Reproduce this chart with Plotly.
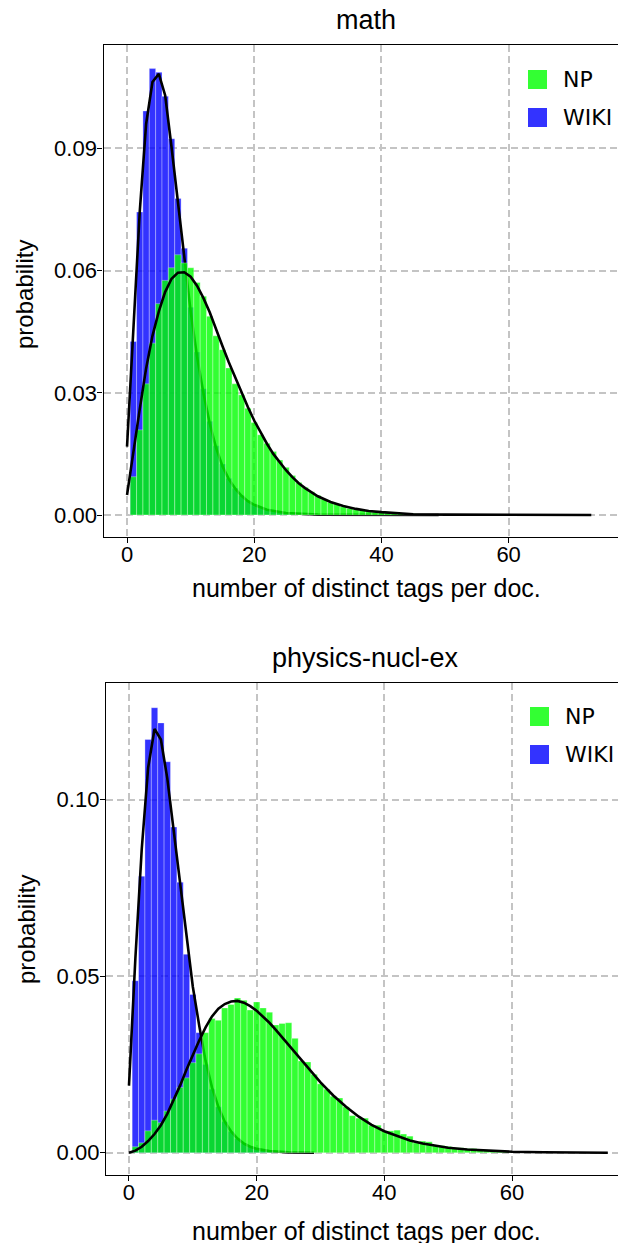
import plotly.graph_objects as go

W, H = 618, 1243

# ---------------- data ----------------
# math panel: histogram bins centred on integers (width 1)
math_wiki_k = list(range(1, 31))
math_wiki_p = [0.0426, 0.0744, 0.0992, 0.1096, 0.1087, 0.1028, 0.0924, 0.0777, 0.0655, 0.0510,
               0.0400, 0.0310, 0.0230, 0.0170, 0.0125, 0.0090, 0.0066, 0.0048, 0.0035, 0.0025,
               0.0018, 0.0013, 0.0009, 0.0006, 0.0004, 0.0003, 0.0002, 0.0002, 0.0001, 0.0001]
math_np_k = list(range(1, 50))
math_np_p = [0.0094, 0.0209, 0.0322, 0.0422, 0.0519, 0.0576, 0.0607, 0.0639, 0.0619, 0.0607,
             0.0571, 0.0537, 0.0488, 0.0440, 0.0406, 0.0361, 0.0322, 0.0295, 0.0262, 0.0227,
             0.0197, 0.0176, 0.0156, 0.0135, 0.0117, 0.0097, 0.0080, 0.0068, 0.0057, 0.0048,
             0.0039, 0.0031, 0.0027, 0.0020, 0.0016, 0.0013, 0.0011, 0.0009, 0.0007, 0.0006,
             0.0005, 0.0004, 0.0004, 0.0003, 0.0003, 0.0002, 0.0002, 0.0002, 0.0001]
math_wiki_fit_x = list(range(0, 21)) + [22, 25, 30, 40, 49]
math_wiki_fit_y = [0.0168, 0.0455, 0.0745, 0.0960, 0.1063, 0.1083, 0.1030, 0.0903, 0.0773, 0.0630,
                   0.0500, 0.0390, 0.0300, 0.0225, 0.0165, 0.0120, 0.0088, 0.0065, 0.0047, 0.0034,
                   0.0025, 0.0013, 0.0005, 0.0001, 0.0, 0.0]
math_np_fit_x = list(range(0, 31)) + [32, 34, 36, 38, 40, 45, 50, 60, 73]
math_np_fit_y = [0.0049, 0.0160, 0.0260, 0.0360, 0.0440, 0.0500, 0.0548, 0.0580, 0.0595, 0.0596,
                 0.0585, 0.0563, 0.0533, 0.0498, 0.0455, 0.0415, 0.0375, 0.0337, 0.0300, 0.0265,
                 0.0232, 0.0202, 0.0175, 0.0150, 0.0129, 0.0110, 0.0093, 0.0078, 0.0066, 0.0055,
                 0.0046, 0.0032, 0.0022, 0.0015, 0.0010, 0.0007, 0.0002, 0.0001, 0.0, 0.0]

# physics-nucl-ex panel
phys_wiki_k = list(range(1, 26))
phys_wiki_p = [0.0487, 0.0783, 0.1170, 0.1260, 0.1217, 0.1107, 0.0922, 0.0766, 0.0562, 0.0448,
               0.0340, 0.0250, 0.0180, 0.0130, 0.0088, 0.0060, 0.0040, 0.0027, 0.0018, 0.0012,
               0.0008, 0.0005, 0.0003, 0.0002, 0.0001]
phys_np_k = list(range(1, 61))
phys_np_p = [0.0017, 0.0028, 0.0062, 0.0092, 0.0085, 0.0118, 0.0152, 0.0185, 0.0212, 0.0255,
             0.0280, 0.0340, 0.0380, 0.0375, 0.0410, 0.0420, 0.0438, 0.0432, 0.0404, 0.0427,
             0.0410, 0.0398, 0.0362, 0.0366, 0.0368, 0.0324, 0.0260, 0.0257, 0.0222, 0.0195,
             0.0180, 0.0160, 0.0155, 0.0130, 0.0105, 0.0098, 0.0098, 0.0078, 0.0078, 0.0062,
             0.0062, 0.0064, 0.0053, 0.0047, 0.0028, 0.0033, 0.0031, 0.0021, 0.0020, 0.0018,
             0.0014, 0.0014, 0.0012, 0.0012, 0.0010, 0.0008, 0.0006, 0.0005, 0.0004, 0.0003]
phys_wiki_fit_x = list(range(0, 21)) + [22, 25, 29]
phys_wiki_fit_y = [0.0190, 0.0550, 0.0860, 0.1090, 0.1200, 0.1170, 0.1060, 0.0910, 0.0760, 0.0610,
                   0.0470, 0.0360, 0.0260, 0.0185, 0.0130, 0.0088, 0.0060, 0.0040, 0.0026, 0.0017,
                   0.0011, 0.0005, 0.0001, 0.0]
phys_np_fit_x = list(range(0, 31)) + [32, 34, 36, 38, 40, 42, 44, 46, 48, 50, 53, 56, 60, 65, 70, 75]
phys_np_fit_y = [0.0, 0.0006, 0.0017, 0.0033, 0.0053, 0.0078, 0.0110, 0.0148, 0.0190, 0.0235,
                 0.0278, 0.0318, 0.0355, 0.0386, 0.0408, 0.0421, 0.0428, 0.0430, 0.0425, 0.0415,
                 0.0402, 0.0386, 0.0368, 0.0348, 0.0327, 0.0305, 0.0283, 0.0261, 0.0240, 0.0219,
                 0.0199, 0.0162, 0.0130, 0.0102, 0.0079, 0.0061, 0.0047, 0.0035, 0.0026, 0.0019,
                 0.0014, 0.0009, 0.0006, 0.0003, 0.00015, 0.00005, 0.0]

titles = ["math", "physics-nucl-ex"]
x_title = "number of distinct tags per doc."
y_title = "probability"
series_names = ["NP", "WIKI"]

# ---------------- style ----------------
BLUE = "rgba(0,0,255,0.8)"
GREEN = "rgba(0,255,0,0.8)"
EDGE = "rgba(255,255,255,0.3)"
FONT = "Liberation Sans"


def px_x(p):
    return p / W


def px_y(p):
    return 1 - p / H


fig = go.Figure()


def bars(k, p, color, xa, ya):
    fig.add_trace(go.Bar(x=k, y=p, width=1, marker=dict(color=color, line=dict(color=EDGE, width=1)),
                         xaxis=xa, yaxis=ya, showlegend=False, hoverinfo="skip"))


def curve(x, y, xa, ya):
    fig.add_trace(go.Scatter(x=x, y=y, mode="lines", line=dict(color="black", width=2.6),
                             xaxis=xa, yaxis=ya, showlegend=False, hoverinfo="skip"))


# top panel: blue + wiki fit on base axes, green + np fit on overlay axes
bars(math_wiki_k, math_wiki_p, BLUE, "x", "y")
curve(math_wiki_fit_x, math_wiki_fit_y, "x", "y")
bars(math_np_k, math_np_p, GREEN, "x2", "y2")
curve(math_np_fit_x, math_np_fit_y, "x2", "y2")
# bottom panel
bars(phys_wiki_k, phys_wiki_p, BLUE, "x3", "y3")
curve(phys_wiki_fit_x, phys_wiki_fit_y, "x3", "y3")
bars(phys_np_k, phys_np_p, GREEN, "x4", "y4")
curve(phys_np_fit_x, phys_np_fit_y, "x4", "y4")

top_xr = [-3.70, 77.2]
top_yr = [-0.0054, 0.1154]
bot_xr = [-3.60, 76.6]
bot_yr = [-0.0063, 0.1330]
top_xd = [px_x(103.5), 1.0]
top_yd = [px_y(537), px_y(45)]
bot_xd = [px_x(106), 1.0]
bot_yd = [px_y(1175), px_y(683)]

grid = dict(showgrid=True, gridcolor="#c4c4c4", gridwidth=1.6, griddash="7px,4px")
axline = dict(showline=True, linecolor="black", linewidth=1.3, ticks="outside", ticklen=5,
              tickwidth=1.3, tickcolor="black", zeroline=False,
              tickfont=dict(family=FONT, size=22, color="black"))

fig.update_layout(
    width=W, height=H, margin=dict(l=0, r=0, t=0, b=0),
    paper_bgcolor="white", plot_bgcolor="white", barmode="overlay", showlegend=False,
    xaxis=dict(domain=top_xd, range=top_xr, anchor="y", tickvals=[0, 20, 40, 60], mirror=True,
               ticklabelstandoff=-8, **grid, **axline),
    yaxis=dict(domain=top_yd, range=top_yr, anchor="x", tickvals=[0, 0.03, 0.06, 0.09],
               tickformat=".2f", ticklabelstandoff=-4, **grid, **axline),
    xaxis2=dict(overlaying="x", range=top_xr, anchor="y2", visible=False),
    yaxis2=dict(overlaying="y", range=top_yr, anchor="x2", visible=False),
    xaxis3=dict(domain=bot_xd, range=bot_xr, anchor="y3", tickvals=[0, 20, 40, 60], mirror=True,
                ticklabelstandoff=-8, **grid, **axline),
    yaxis3=dict(domain=bot_yd, range=bot_yr, anchor="x3", tickvals=[0, 0.05, 0.10],
                tickformat=".2f", ticklabelstandoff=-4, **grid, **axline),
    xaxis4=dict(overlaying="x3", range=bot_xr, anchor="y4", visible=False),
    yaxis4=dict(overlaying="y3", range=bot_yr, anchor="x4", visible=False),
)

ann = []
shapes = []


def text(s, x, y, size, angle=0, xanchor="center", family=FONT):
    ann.append(dict(text=s, x=px_x(x), y=px_y(y), xref="paper", yref="paper", showarrow=False,
                    xanchor=xanchor, yanchor="middle", textangle=angle,
                    font=dict(family=family, size=size, color="black")))


text(titles[0], 366, 20, 27)
text(titles[1], 365, 658, 27)
text(x_title, 366, 588, 25)
text(x_title, 366, 1231, 25)
text(y_title, 24, 295, 24, angle=-90)
text(y_title, 26, 930, 24, angle=-90)

# legends
for (x0, y0) in [(528, 70), (530, 707)]:
    for i, (name, col) in enumerate(zip(series_names, [GREEN, BLUE])):
        yy = y0 + 38 * i
        shapes.append(dict(type="rect", xref="paper", yref="paper", x0=px_x(x0), x1=px_x(x0 + 19),
                           y0=px_y(yy + 19), y1=px_y(yy), fillcolor=col, line=dict(width=0)))
        text(name, x0 + 33, yy + 9.5, 22, xanchor="left", family="DejaVu Sans")

fig.update_layout(annotations=ann, shapes=shapes)
fig.write_html("out.html", config={"displayModeBar": False},
               post_script="document.body.style.margin='0';document.body.style.overflow='hidden';")
